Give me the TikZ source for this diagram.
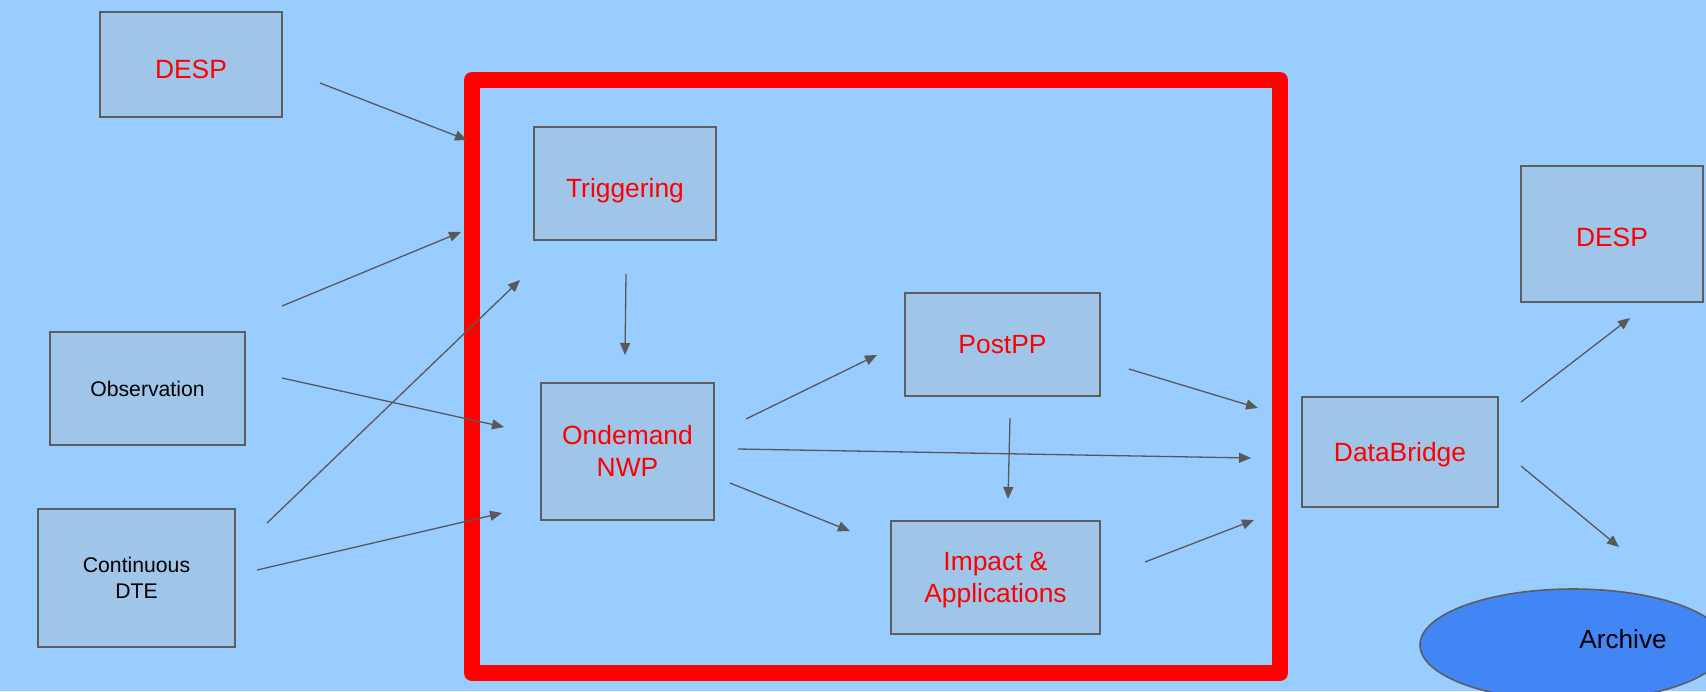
\documentclass[tikz,border=0pt]{standalone}
\usepackage{fontspec}
\setmainfont{Liberation Sans}
\usepackage{tikz}
\usetikzlibrary{arrows.meta,calc,positioning,shapes.geometric}
\definecolor{sky}{HTML}{99CCFF}
\definecolor{boxfill}{HTML}{9FC5E8}
\definecolor{boxline}{HTML}{5E5E5E}
\definecolor{wire}{HTML}{595959}
\definecolor{archfill}{HTML}{4285F4}
\tikzset{
	workflow/.style={
		x=0.5pt, y=-0.5pt,
		every node/.style={inner sep=0pt, align=center},
		ar/.style={draw=wire, line width=0.65pt, -{Triangle[length=6pt,width=5pt]}},
		frame/.style={draw=red, line width=8pt, line join=round}
		},
	bx/.style 2 args={draw=boxline, fill=boxfill, line width=1pt,
		minimum width=#1, minimum height=#2, text depth=0pt},
	red text/.style={text=red, font=\fontsize{13.2}{15.8}\selectfont},
	black text/.style={text=black, font=\fontsize{10.6}{12.7}\selectfont},
	% pushes a one line text down inside its box
	low/.style={text height=#1}
}

\begin{document}
\begin{tikzpicture}[workflow]
	\fill[sky] (0,0) rectangle (1706,691);
	\useasboundingbox (0,0) rectangle (1706,691);
	\draw[frame] (472,80) rectangle (1280,673);
	% boxes
	\node[bx={91pt}{52.5pt}, red text, low=13.6pt] (despA) at (191,64.5) {DESP};
	\node[bx={97.5pt}{56.5pt}, black text] (obs) at (147.5,388.5) {Observation};
	\node[bx={98.5pt}{69pt}, black text] (dte) at (136.5,578) {Continuous\\DTE};
	\node[bx={91pt}{56.5pt}, red text, low=14pt] (trig) at (625,183.5) {Triggering};
	\node[bx={86.5pt}{68.5pt}, red text] (ond) at (627.5,451) {Ondemand\\NWP};
	\node[bx={97.5pt}{51.5pt}, red text] (post) at (1002.5,344.5) {PostPP};
	\node[bx={104.5pt}{56.5pt}, red text] (imp) at (995.5,577.5) {Impact \&\\Applications};
	\node[bx={98pt}{55pt}, red text] (db) at (1400,451.5) {DataBridge};
	\node[bx={91pt}{68pt}, red text, low=13pt] (despB) at (1612,233.5) {DESP};
	\node[ellipse, draw=boxline, fill=archfill, line width=0.8pt,
		minimum width=153pt, minimum height=56pt,
		label={[black text, font=\fontsize{13.1}{15.7}\selectfont, xshift=25pt, yshift=3pt]center:Archive}] (arch) at (1573,645) {};
	% arrow ends
	\coordinate (despA_out) at (320,83);   \coordinate (frame_in1) at (467,140);
	\coordinate (obs_out1) at (282,306);   \coordinate (frame_in2) at (461,232);
	\coordinate (obs_out2) at (282,378);   \coordinate (ond_in1) at (504,427);
	\coordinate (dte_out1) at (267,523);   \coordinate (trig_in1) at (520,280);
	\coordinate (dte_out2) at (257,570);   \coordinate (ond_in2) at (502,513);
	\coordinate (trig_out1) at (626,274);  \coordinate (ond_in3) at (625,355);
	\coordinate (ond_out1) at (746,419);   \coordinate (post_in1) at (877,355);
	\coordinate (ond_out2) at (738,449);   \coordinate (db_in2) at (1251,458);
	\coordinate (ond_out3) at (730,483);   \coordinate (imp_in1) at (850,531);
	\coordinate (post_out1) at (1010,418); \coordinate (imp_in2) at (1008,499);
	\coordinate (post_out2) at (1129,369); \coordinate (db_in1) at (1258,408);
	\coordinate (imp_out1) at (1145,562);  \coordinate (db_in3) at (1254,520);
	\coordinate (db_out1) at (1521,402);   \coordinate (despB_in1) at (1630,318);
	\coordinate (db_out2) at (1521,466);   \coordinate (arch_in1) at (1619,547);
	\foreach \a/\b in {despA_out/frame_in1, obs_out1/frame_in2, obs_out2/ond_in1,
			dte_out1/trig_in1, dte_out2/ond_in2, trig_out1/ond_in3,
			ond_out1/post_in1, ond_out2/db_in2, ond_out3/imp_in1,
			post_out1/imp_in2, post_out2/db_in1, imp_out1/db_in3,
			db_out1/despB_in1, db_out2/arch_in1}
		\draw[ar] (\a) -- (\b);
\end{tikzpicture}
\end{document}
